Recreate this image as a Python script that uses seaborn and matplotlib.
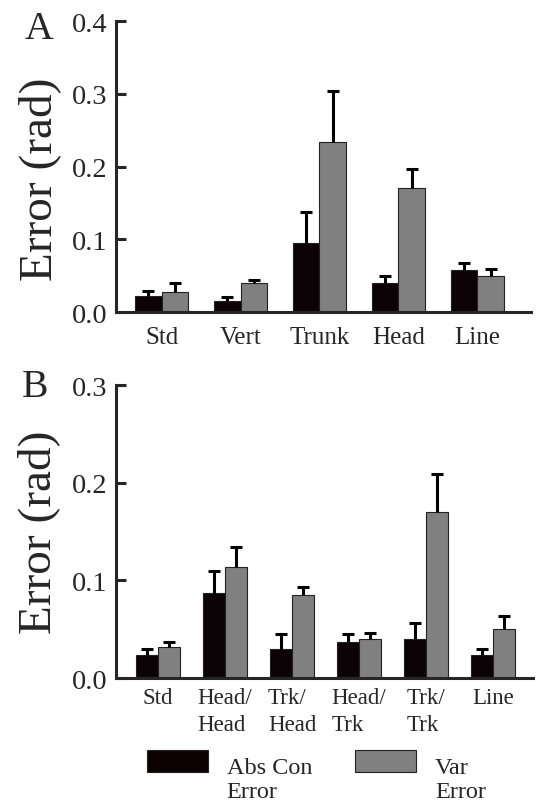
import matplotlib
matplotlib.use("Agg")
import matplotlib.pyplot as plt
from matplotlib.patches import Patch, Rectangle
from matplotlib.legend_handler import HandlerPatch
import seaborn as sns
import pandas as pd

# panel A
a_conds = ["Std", "Vert", "Trunk", "Head", "Line"]
a_abs = [0.022, 0.015, 0.095, 0.040, 0.058]
a_abs_top = [0.029, 0.021, 0.138, 0.050, 0.067]
a_var = [0.027, 0.040, 0.234, 0.170, 0.050]
a_var_top = [0.040, 0.044, 0.304, 0.196, 0.059]
a_yticks = [0.0, 0.1, 0.2, 0.3, 0.4]

# panel B
b_conds = ["Std", "Head/\nHead", "Trk/\nHead", "Head/\nTrk", "Trk/\nTrk", "Line"]
b_abs = [0.024, 0.087, 0.030, 0.037, 0.040, 0.024]
b_abs_top = [0.030, 0.110, 0.045, 0.045, 0.056, 0.030]
b_var = [0.032, 0.114, 0.085, 0.040, 0.170, 0.050]
b_var_top = [0.037, 0.134, 0.093, 0.046, 0.209, 0.063]
b_yticks = [0.0, 0.1, 0.2, 0.3]

kinds = ["Abs Con\nError", "Var\nError"]
colors = ["#0c0204", "#808080"]

sns.set_style("ticks")
plt.rcParams['font.family'] = ['Liberation Serif', 'DejaVu Serif']

fig = plt.figure(figsize=(5.37, 8.03), dpi=100)


def draw_panel(ax, conds, abs_v, abs_t, var_v, var_t, yticks, xlim, xpad, xsize):
    n = len(conds)
    df = pd.DataFrame({
        "cond": conds * 2,
        "kind": [kinds[0]] * n + [kinds[1]] * n,
        "val": abs_v + var_v,
        "top": abs_t + var_t,
    })
    sns.barplot(data=df, x="cond", y="val", hue="kind", palette=colors,
                width=0.67, gap=0, errorbar=None, edgecolor="#222222",
                linewidth=0.8, legend=False, ax=ax)
    # one-sided error bars going up from the bar tops
    for p, v, t in zip(ax.patches, df["val"], df["top"]):
        x = p.get_x() + p.get_width() / 2
        eb = ax.errorbar(x, v, yerr=[[0], [t - v]], fmt="none", ecolor="black",
                         elinewidth=2.2, capsize=4.4, capthick=2.2, zorder=4)
        for cap in eb[1]:
            if cap.get_ydata()[0] == v:
                cap.set_visible(False)
    ax.set_ylim(yticks[0], yticks[-1])
    ax.set_xlim(*xlim)
    ax.set_yticks(yticks)
    ax.set_yticklabels([f"{y:.1f}" for y in yticks], fontsize=20.5)
    ax.set_xlabel("")
    ax.set_ylabel("Error (rad)", fontsize=34)
    sns.despine(ax=ax)
    for s in ["left", "bottom"]:
        ax.spines[s].set_linewidth(2.2)
    ax.tick_params(axis="y", direction="in", length=7.2, width=2.2, pad=6)
    ax.tick_params(axis="x", length=0, pad=xpad, labelsize=xsize)
    for lab in ax.get_xticklabels():
        lab.set_multialignment("left")
        lab.set_linespacing(1.4)


ax1 = fig.add_axes([0.216, 0.6102, 0.773, 0.3624])
draw_panel(ax1, a_conds, a_abs, a_abs_top, a_var, a_var_top, a_yticks,
           (-0.577, 4.68), 10, 18)
ax1.yaxis.set_label_coords(-0.133, 0.46)

ax2 = fig.add_axes([0.216, 0.1544, 0.777, 0.3649])
draw_panel(ax2, b_conds, b_abs, b_abs_top, b_var, b_var_top, b_yticks,
           (-0.627, 5.6), 6.5, 16.5)
ax2.yaxis.set_label_coords(-0.133, 0.5)

fig.text(0.0466, 0.9514, "A", fontsize=28.5, va="baseline", ha="left")
fig.text(0.041, 0.5056, "B", fontsize=28.5, va="baseline", ha="left")


def raised(legend, orig_handle, xdescent, ydescent, width, height, fontsize):
    # patch sits level with the first line of the two-line label
    return Rectangle((-xdescent, 0.64 * fontsize), width, height)


handles = [Patch(facecolor=c, edgecolor="#222222", linewidth=0.8) for c in colors]
leg = fig.legend(handles=handles, labels=kinds, ncol=2, frameon=False,
                 fontsize=17.5, handlelength=2.5, handleheight=1.03,
                 handletextpad=0.78, columnspacing=1.77, borderpad=0,
                 borderaxespad=0, loc="upper left",
                 bbox_to_anchor=(0.2737, 0.0562),
                 handler_map={Patch: HandlerPatch(patch_func=raised)})
for txt in leg.get_texts():
    txt.set_linespacing(1.2)

fig.savefig("out.png", dpi=100)
